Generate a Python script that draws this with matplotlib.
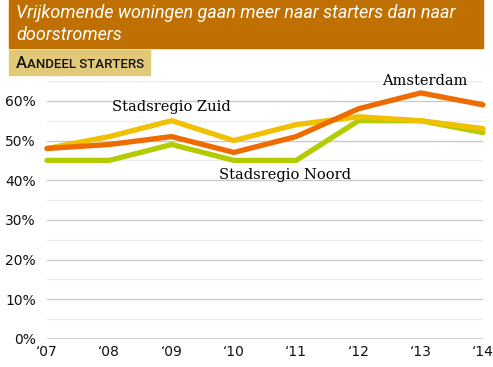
import matplotlib
matplotlib.use('Agg')
import matplotlib.pyplot as plt
from matplotlib.patches import Rectangle

year_labels = ['\u201807', '\u201808', '\u201809', '\u201810', '\u201811', '\u201812', '\u201813', '\u201814']

amsterdam = [48, 49, 51, 47, 51, 58, 62, 59]
zuid = [48, 51, 55, 50, 54, 56, 55, 53]
noord = [45, 45, 49, 45, 45, 55, 55, 52]

title = 'Vrijkomende woningen gaan meer naar starters dan naar\ndoorstromers'

c_ams = '#ee6b00'
c_zuid = '#efc100'
c_noord = '#b3cc00'

fig = plt.figure(figsize=(4.93, 3.67), dpi=100)
narrow = ['Roboto', 'DejaVu Sans']

# title bar
fig.patches.append(Rectangle((9 / 493, 1 - 48 / 367), 474 / 493, 48 / 367,
                             transform=fig.transFigure, color='#c07000', zorder=0))
fig.text(16 / 493, 1 - 3.5 / 367, title, color='white', style='italic',
         family=narrow, fontsize=13, va='top', ha='left', linespacing=1.3)

# subtitle box
fig.patches.append(Rectangle((9 / 493, 1 - 75 / 367), 141 / 493, 25 / 367,
                             transform=fig.transFigure, color='#e2c97a', zorder=0))
t1 = fig.text(16 / 493, 1 - 68.5 / 367, 'A', color='#111111', fontsize=12,
              family=narrow, weight='medium', va='baseline')
fig.canvas.draw()
bb = t1.get_window_extent(fig.canvas.get_renderer())
fig.text(bb.x1 / fig.bbox.width + 0.3 / 493, 1 - 68.5 / 367, 'ANDEEL STARTERS', color='#111111',
         fontsize=9.5, family=narrow, weight='medium', va='baseline')

ax = fig.add_axes([47 / 493, 1 - 339 / 367, 436 / 493, 258 / 367])
x = list(range(len(year_labels)))

for v in range(5, 70, 5):
    col = '#c9c9c9' if v % 10 == 0 else '#ececec'
    ax.axhline(v, color=col, lw=1, zorder=0)
ax.axhline(0, color='#c9c9c9', lw=1.2, zorder=0)

ax.plot(x, noord, color=c_noord, lw=3.8, solid_capstyle='round', solid_joinstyle='miter', clip_on=False, zorder=2)
ax.plot(x, zuid, color=c_zuid, lw=3.8, solid_capstyle='round', solid_joinstyle='miter', clip_on=False, zorder=3)
ax.plot(x, amsterdam, color=c_ams, lw=3.8, solid_capstyle='round', solid_joinstyle='miter', clip_on=False, zorder=4)

serif = ['DejaVu Serif']
ax.text(2, 58.5, 'Stadsregio Zuid', family=serif, fontsize=10.5, ha='center', va='center')
ax.text(6.07, 65, 'Amsterdam', family=serif, fontsize=10.5, ha='center', va='center', clip_on=False)
ax.text(3.82, 41.3, 'Stadsregio Noord', family=serif, fontsize=10.5, ha='center', va='center')

ax.set_xlim(0, 7)
ax.set_ylim(0, 65)
ax.set_yticks(range(0, 70, 10))
ax.set_yticklabels([f'{v}%' for v in range(0, 70, 10)])
ax.set_xticks(x)
ax.set_xticklabels(year_labels)
ax.tick_params(length=0, labelsize=10, colors='#111111')
ax.tick_params(axis='y', pad=8)
ax.tick_params(axis='x', pad=4)
for s in ax.spines.values():
    s.set_visible(False)
ax.set_facecolor('none')

fig.savefig('out.png', dpi=100)
